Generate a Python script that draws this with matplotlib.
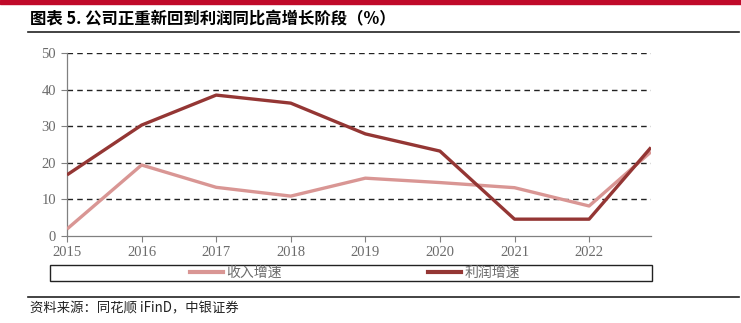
import matplotlib
matplotlib.use("Agg")
import matplotlib.pyplot as plt
from matplotlib.patches import Rectangle
from matplotlib.lines import Line2D

plt.rcParams["font.family"] = ["Liberation Serif", "Noto Sans CJK SC"]

# data (growth, %)
years = [2015, 2016, 2017, 2018, 2019, 2020, 2021, 2022, 2022.83]
revenue_growth = [1.9, 19.4, 13.3, 10.9, 15.8, 14.6, 13.2, 8.2, 23.0]
profit_growth = [16.7, 30.3, 38.5, 36.3, 27.9, 23.2, 4.6, 4.6, 24.2]
tick_years = [2015, 2016, 2017, 2018, 2019, 2020, 2021, 2022]
labels = ["收入增速", "利润增速"]
title = "图表 5. 公司正重新回到利润同比高增长阶段（%）"
source = "资料来源：同花顺 iFinD，中银证券"

W, H = 741, 323
fig = plt.figure(figsize=(W / 100, H / 100), dpi=100)

def fx(px):
    return px / W

def fy(py):
    return 1 - py / H

pink = "#D99694"
dark = "#943634"
gray = "#6B6B6B"

# top red band, title, rules
fig.patches.append(Rectangle((0, fy(4)), 1, 4 / H, transform=fig.transFigure,
                             color="#C00A2A", zorder=5))
fig.text(fx(30), fy(19), title, fontsize=11.8, fontweight="bold",
         family=["Noto Sans CJK SC", "DejaVu Sans"], va="center", ha="left")
fig.add_artist(Line2D([fx(28), fx(739)], [fy(32), fy(32)], color="#222222", lw=1.2))
fig.add_artist(Line2D([fx(28), fx(739)], [fy(297), fy(297)], color="#222222", lw=1.2))
fig.text(fx(30), fy(308), source, fontsize=9.6, style="italic",
         family=["Noto Sans CJK SC", "DejaVu Sans"], va="center", ha="left",
         color="#222222")

ax = fig.add_axes([fx(67), fy(236), fx(651) - fx(67), fy(53) - fy(236)])
ax.plot(years, revenue_growth, color=pink, lw=2.4, solid_capstyle="butt", zorder=3)
ax.plot(years, profit_growth, color=dark, lw=2.4, solid_capstyle="butt", zorder=4)

ax.set_xlim(2015, years[-1])
ax.set_ylim(0, 50)
ax.set_yticks([0, 10, 20, 30, 40, 50])
ax.set_xticks(tick_years)
ax.set_xticklabels([str(y) for y in tick_years])
for y in [10, 20, 30, 40, 50]:
    ax.axhline(y, color="#222222", lw=1.0, ls=(0, (4, 3)), zorder=1)
for s in ["top", "right"]:
    ax.spines[s].set_visible(False)
for s in ["left", "bottom"]:
    ax.spines[s].set_color("#808080")
    ax.spines[s].set_linewidth(0.9)
ax.tick_params(axis="both", colors="#808080", labelcolor=gray, labelsize=10.5,
               length=4, width=0.8)
ax.tick_params(axis="y", pad=4)

# legend box
fig.patches.append(Rectangle((fx(50), fy(281)), fx(652) - fx(50), 16 / H,
                             transform=fig.transFigure, fill=False,
                             edgecolor="#222222", lw=1.0))
handles = [Line2D([], [], color=pink, lw=3), Line2D([], [], color=dark, lw=3)]
fig.legend(handles, labels, loc="center", bbox_to_anchor=(fx(355), fy(273)),
           ncol=2, frameon=False, handlelength=2.4, handletextpad=0.25,
           columnspacing=10.5, prop={"family": ["Noto Sans CJK SC"], "size": 10},
           labelcolor=gray)

fig.savefig("out.png", dpi=100)
